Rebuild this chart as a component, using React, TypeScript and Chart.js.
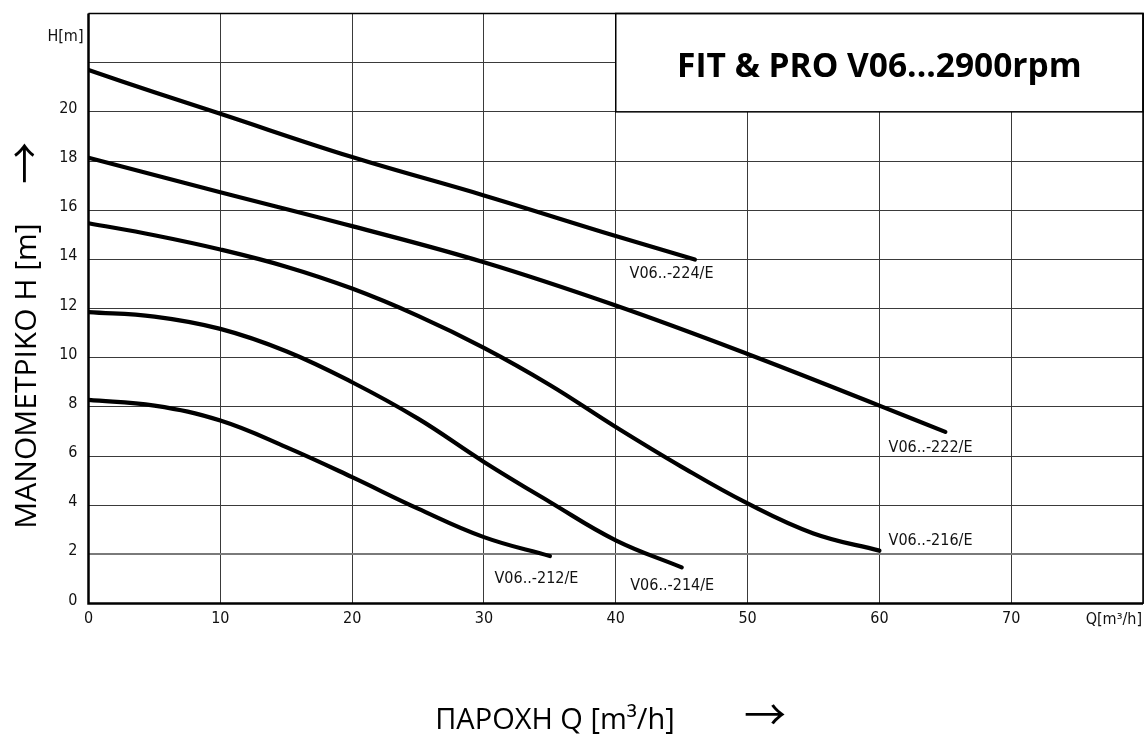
import React, { useEffect, useRef } from "react";
import { Chart, registerables } from "chart.js";

Chart.register(...registerables);

// ---- data ----
const flow212 = [0, 5, 10, 15, 20, 25, 30, 35];
const head212 = [8.28, 8.05, 7.44, 6.36, 5.14, 3.86, 2.7, 1.93];

const flow214 = [0, 5, 10, 15, 20, 25, 30, 35, 40, 45];
const head214 = [11.85, 11.67, 11.17, 10.26, 9.0, 7.52, 5.76, 4.13, 2.57, 1.47];

const flow216 = [0, 5, 10, 15, 20, 25, 30, 35, 40, 45, 50, 55, 60];
const head216 = [15.47, 14.98, 14.4, 13.7, 12.81, 11.7, 10.4, 8.89, 7.18, 5.56, 4.07, 2.85, 2.15];

const flow222 = [0, 10, 20, 30, 40, 50, 60, 65];
const head222 = [18.13, 16.73, 15.35, 13.88, 12.12, 10.15, 8.05, 6.98];

const flow224 = [0, 5, 10, 20, 30, 40, 46];
const head224 = [21.7, 20.8, 19.92, 18.16, 16.6, 14.95, 13.99];

const seriesNames = ["V06..-212/E", "V06..-214/E", "V06..-216/E", "V06..-222/E", "V06..-224/E"];
const seriesFlows = [flow212, flow214, flow216, flow222, flow224];
const seriesHeads = [head212, head214, head216, head222, head224];
// label anchors (data units: Q, H)
const labelQ = [30.8, 41.1, 60.7, 60.7, 41.05];
const labelH = [1.0, 0.73, 2.53, 6.35, 13.4];

const xTickLabels = [0, 10, 20, 30, 40, 50, 60, 70];
const yTickLabels = [0, 2, 4, 6, 8, 10, 12, 14, 16, 18, 20];

const chartTitle = "FIT & PRO V06...2900rpm";
const xTitle = "ΠΑΡΟΧΗ Q [m³/h]";
const yTitle = "ΜΑΝΟΜΕΤΡΙΚΟ Η [m]";
const xUnit = "Q[m³/h]";
const yUnit = "H[m]";
const arrow = "→";

const TICK_FONT = '"DejaVu Sans Condensed", "DejaVu Sans", sans-serif';

const decor = {
  id: "decor",
  beforeDatasetsDraw(chart: any) {
    const { ctx, chartArea: a, scales } = chart;
    const x = scales.x, y = scales.y;
    ctx.save();
    // title box
    const bx = x.getPixelForValue(40);
    const by = y.getPixelForValue(24);
    const by2 = y.getPixelForValue(20);
    ctx.fillStyle = "#fff";
    ctx.fillRect(bx, by, a.right - bx, by2 - by);
    ctx.strokeStyle = "#000";
    ctx.lineWidth = 1.5;
    ctx.strokeRect(bx, by, a.right - bx, by2 - by);
    // frame: top/right thin
    ctx.beginPath();
    ctx.moveTo(a.left, a.top);
    ctx.lineTo(a.right, a.top);
    ctx.lineTo(a.right, a.bottom);
    ctx.stroke();
    // left/bottom thick
    ctx.lineWidth = 2.5;
    ctx.beginPath();
    ctx.moveTo(a.left, a.top);
    ctx.lineTo(a.left, a.bottom);
    ctx.lineTo(a.right, a.bottom);
    ctx.stroke();
    ctx.restore();
  },
  afterDatasetsDraw(chart: any) {
    const { ctx, chartArea: a, scales } = chart;
    const x = scales.x, y = scales.y;
    ctx.save();
    ctx.fillStyle = "#111";
    // curve labels
    ctx.font = `16px ${TICK_FONT}`;
    ctx.textAlign = "left";
    ctx.textBaseline = "middle";
    seriesNames.forEach((n, i) => {
      ctx.fillText(n, x.getPixelForValue(labelQ[i]), y.getPixelForValue(labelH[i]));
    });
    // unit labels
    ctx.textAlign = "right";
    ctx.fillText(xUnit, a.right - 1, a.bottom + 16.5);
    ctx.fillText(yUnit, a.left - 5, a.top + 23.5);
    // chart title
    ctx.fillStyle = "#000";
    ctx.font = 'bold 33.5px "Open Sans", sans-serif';
    ctx.textAlign = "center";
    ctx.textBaseline = "alphabetic";
    const cx = (x.getPixelForValue(40) + a.right) / 2;
    ctx.fillText(chartTitle, cx, y.getPixelForValue(22) + 14.5);
    // x title
    ctx.font = '29px "Open Sans", sans-serif';
    ctx.fillText(xTitle, 555, 729);
    // y title
    ctx.font = '30px "Open Sans", sans-serif';
    ctx.save();
    ctx.translate(36, 376);
    ctx.rotate(-Math.PI / 2);
    ctx.fillText(yTitle, 0, 0);
    ctx.restore();
    // arrows
    ctx.font = '42px "Noto Sans CJK SC", "DejaVu Sans", sans-serif';
    ctx.textBaseline = "middle";
    ctx.fillText(arrow, 765, 714);
    ctx.save();
    ctx.translate(24, 163);
    ctx.rotate(-Math.PI / 2);
    ctx.fillText(arrow, 0, 0);
    ctx.restore();
    ctx.restore();
  },
};

export default function App() {
  const ref = useRef<HTMLCanvasElement | null>(null);
  useEffect(() => {
    if (!ref.current) return;
    const datasets = seriesNames.map((name, i) => ({
      label: name,
      data: seriesFlows[i].map((q, j) => ({ x: q, y: seriesHeads[i][j] })),
      borderColor: "#000",
      backgroundColor: "#000",
      borderWidth: 4.2,
      pointRadius: 0,
      pointHoverRadius: 0,
      fill: false,
      tension: 0.4,
      borderCapStyle: "round" as const,
    }));
    const chart = new Chart(ref.current, {
      type: "line",
      data: { datasets },
      options: {
        animation: false,
        responsive: false,
        devicePixelRatio: 1,
        events: [],
        layout: { padding: { top: 13.5, right: 2, left: 0, bottom: 0 } },
        plugins: { legend: { display: false }, tooltip: { enabled: false }, title: { display: false } },
        scales: {
          x: {
            type: "linear",
            min: 0,
            max: 80,
            afterFit: (s: any) => {
              s.height = 131.5;
              s.paddingLeft = 0;
              s.paddingRight = 0;
            },
            afterBuildTicks: (s: any) => {
              s.ticks = [...xTickLabels, 80].map((v) => ({ value: v }));
            },
            border: { display: false },
            grid: { color: "#3a3a3a", lineWidth: 1, drawTicks: false },
            ticks: {
              padding: 6,
              maxRotation: 0,
              autoSkip: false,
              color: "#111",
              font: { family: TICK_FONT, size: 16 },
              callback: (v: any) => (xTickLabels.includes(v) ? String(v) : ""),
            },
          },
          y: {
            type: "linear",
            min: 0,
            max: 24,
            afterFit: (s: any) => {
              s.width = 88.5;
              s.paddingTop = 0;
              s.paddingBottom = 0;
            },
            afterBuildTicks: (s: any) => {
              s.ticks = [...yTickLabels, 22, 24].map((v) => ({ value: v }));
            },
            border: { display: false },
            grid: {
              color: (c: any) => (c.tick && c.tick.value === 2 ? "#7a7a7a" : "#3a3a3a"),
              lineWidth: (c: any) => (c.tick && c.tick.value === 2 ? 2 : 1),
              drawTicks: false,
            },
            ticks: {
              padding: 11,
              labelOffset: -3,
              autoSkip: false,
              color: "#111",
              font: { family: TICK_FONT, size: 16 },
              callback: (v: any) => (yTickLabels.includes(v) ? String(v) : ""),
            },
          },
        },
      },
      plugins: [decor],
    });
    return () => chart.destroy();
  }, []);
  return (
    <div style={{ position: "fixed", left: 0, top: 0, width: 1145, height: 735, background: "#fff" }}>
      <canvas ref={ref} width={1145} height={735} style={{ display: "block" }} />
    </div>
  );
}
